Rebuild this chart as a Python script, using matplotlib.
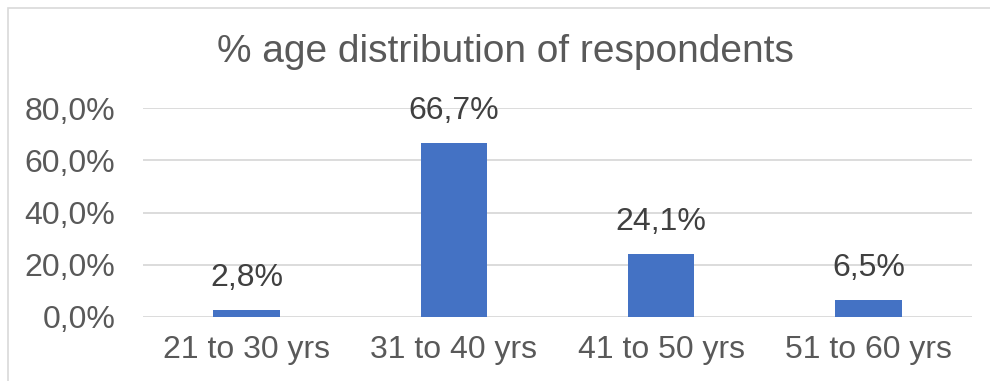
import numpy as np
import matplotlib.pyplot as plt
from matplotlib.patches import Rectangle

# chart data
categories = ['21 to 30 yrs', '31 to 40 yrs', '41 to 50 yrs', '51 to 60 yrs']
shares = [2.8, 66.7, 24.1, 6.5]
yticks = [0, 20, 40, 60, 80]

txt_color = '#595959'
lbl_color = '#404040'
bar_color = '#4472C4'
grid_color = '#D9D9D9'

plt.rcParams['font.family'] = ['Liberation Sans', 'DejaVu Sans']

fig = plt.figure(figsize=(9.9, 3.81), dpi=100)
ax = fig.add_axes([143/990, 1 - 317/381, (972 - 143)/990, (317 - 108)/381])

# outer chart border (only top and left visible in the crop)
fig.patches.append(Rectangle((8/990, -0.2), 1.2, (381 - 8)/381 + 0.2, transform=fig.transFigure,
                             fill=False, edgecolor=grid_color, linewidth=1.2))

x = np.arange(len(categories))
bars = ax.bar(x, shares, width=0.32, color=bar_color, zorder=3)

# value labels above bars
for xi, v in zip(x, shares):
    ax.annotate(f'{v:.1f}%'.replace('.', ','), (xi, v), xytext=(0, 23), textcoords='offset points',
                ha='center', va='center', fontsize=23, color=lbl_color, annotation_clip=False)

ax.set_xlim(-0.5, len(categories) - 0.5)
ax.set_ylim(0, 80)
ax.set_yticks(yticks)
ax.set_yticklabels([f'{t:.1f}%'.replace('.', ',') for t in yticks])
ax.set_xticks(x)
ax.set_xticklabels(categories)
ax.tick_params(axis='both', length=0, labelsize=23, labelcolor=txt_color)
ax.tick_params(axis='y', pad=20)
ax.tick_params(axis='x', pad=13)
ax.grid(axis='y', color=grid_color, linewidth=1.3, zorder=0)
for s in ax.spines.values():
    s.set_visible(False)

fig.text(505/990, 1 - 52/381, '% age distribution of respondents', ha='center', va='center',
         fontsize=28, color=txt_color)

fig.savefig('out.png', dpi=100)
